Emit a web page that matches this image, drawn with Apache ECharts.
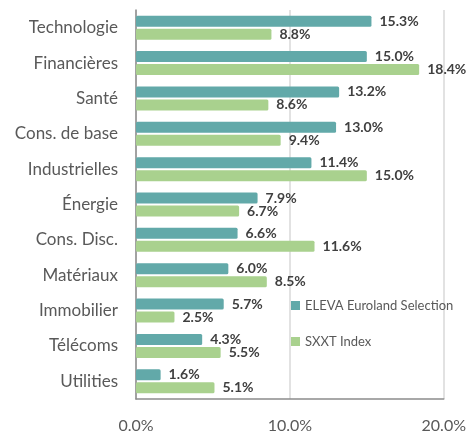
<!DOCTYPE html>
<html>
<head>
<meta charset="utf-8">
<script src="https://cdn.jsdelivr.net/npm/echarts@6/dist/echarts.min.js"></script>
<style>html,body{margin:0;padding:0;background:#fff}#c{width:469px;height:434px}</style>
</head>
<body>
<div id="c"></div>
<script>
const categories = ['Technologie','Financières','Santé','Cons. de base','Industrielles','Énergie','Cons. Disc.','Matériaux','Immobilier','Télécoms','Utilities'];
const elevaValues = [15.3, 15.0, 13.2, 13.0, 11.4, 7.9, 6.6, 6.0, 5.7, 4.3, 1.6];
const sxxtValues = [8.8, 18.4, 8.6, 9.4, 15.0, 6.7, 11.6, 8.5, 2.5, 5.5, 5.1];
const seriesNames = ['ELEVA Euroland Selection', 'SXXT Index'];
const xTicks = [0, 10, 20];

const font = 'Lato, "Open Sans", sans-serif';
const chart = echarts.init(document.getElementById('c'));
const labelStyle = {
  show: true, position: 'right', distance: 8,
  formatter: p => p.value.toFixed(1) + '%',
  color: '#404040', fontWeight: 'bold', fontSize: 14, fontFamily: font
};
chart.setOption({
  animation: false,
  grid: {left: 136, right: 23, top: 10, bottom: 30, containLabel: false},
  legend: {
    orient: 'vertical', left: 286, top: 294, itemGap: 23,
    itemWidth: 9, itemHeight: 9, icon: 'rect',
    textStyle: {color: '#595959', fontSize: 13, fontFamily: font},
    data: seriesNames
  },
  xAxis: {
    type: 'value', min: xTicks[0], max: xTicks[xTicks.length-1], interval: 10,
    axisLine: {show: true, lineStyle: {color: '#8c8c8c', width: 1.5}},
    axisTick: {show: false},
    splitLine: {show: true, lineStyle: {color: '#d9d9d9', width: 1.5}},
    axisLabel: {formatter: v => v.toFixed(1) + '%', color: '#595959', fontSize: 16, fontFamily: font, margin: 19}
  },
  yAxis: {
    type: 'category', inverse: true, data: categories,
    axisLine: {show: true, lineStyle: {color: '#8c8c8c', width: 1.5}},
    axisTick: {show: false},
    axisLabel: {color: '#595959', fontSize: 17, fontFamily: font, margin: 18}
  },
  series: [
    {name: seriesNames[0], type: 'bar', data: elevaValues, barWidth: 11, barGap: '18%',
     itemStyle: {color: '#62a9a9', borderRadius: 1.5}, label: labelStyle},
    {name: seriesNames[1], type: 'bar', data: sxxtValues, barWidth: 11, barGap: '18%',
     itemStyle: {color: '#a9d18e', borderRadius: 1.5}, label: labelStyle}
  ]
});
</script>
</body>
</html>
